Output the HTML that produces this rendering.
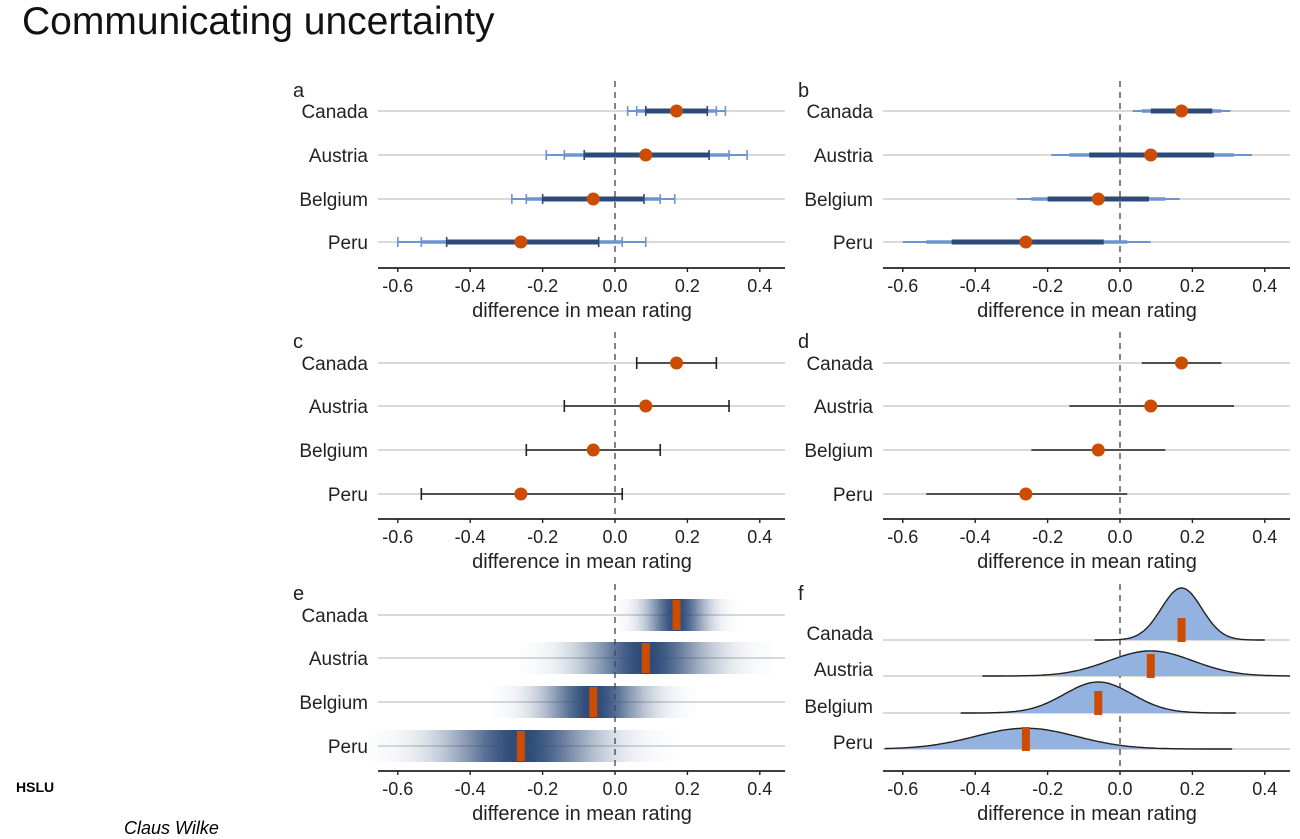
<!DOCTYPE html>
<html><head><meta charset="utf-8"><style>
body{margin:0;background:#fff;width:1300px;height:833px;overflow:hidden;font-family:"Liberation Sans",sans-serif}
#title{position:absolute;left:22px;top:0px;font-size:39px;color:#111}
#hslu{position:absolute;left:16px;top:779px;font-size:14px;font-weight:bold}
#author{position:absolute;left:124px;top:818px;font-size:18px;font-style:italic}
svg{position:absolute;left:0;top:0}
svg text{font-family:"Liberation Sans",sans-serif;fill:#222}
</style></head><body>
<div id="title">Communicating uncertainty</div>
<div id="hslu">HSLU</div>
<div id="author">Claus Wilke</div>
<svg id="chart" width="1300" height="833"></svg>
<script>
const countries=["Canada","Austria","Belgium","Peru"];
const means=[0.17,0.085,-0.06,-0.26];
const ci80lo=[0.085,-0.085,-0.2,-0.465];
const ci80hi=[0.255,0.26,0.08,-0.045];
const ci95lo=[0.06,-0.14,-0.245,-0.535];
const ci95hi=[0.28,0.315,0.125,0.02];
const ci99lo=[0.035,-0.19,-0.285,-0.6];
const ci99hi=[0.305,0.365,0.165,0.085];
const sds=[0.056,0.116,0.094,0.14];
const densLo=[-0.07,-0.38,-0.44,-0.65];
const densHi=[0.40,0.47,0.32,0.31];
const ticks=[-0.6,-0.4,-0.2,0.0,0.2,0.4];
const tickLabels=["-0.6","-0.4","-0.2","0.0","0.2","0.4"];
const NS="http://www.w3.org/2000/svg";
const svg=document.getElementById('chart');
const defs=document.createElementNS(NS,'defs');svg.appendChild(defs);
function el(t,a,p){const e=document.createElementNS(NS,t);for(const k in a)e.setAttribute(k,a[k]);(p||svg).appendChild(e);return e;}
const NAVY="#2c4a78",LIGHT="#6a95d0",ORANGE="#cc4c02",GRID="#d9d9d9";
function panel(letter,ox,axisY,rows,kind){
  const g=el('g',{});
  
  
  const x=v=>ox+237+v*362;
  const x0=ox,x1=ox+407;
  const lt=el('text',{x:ox-85,y:axisY-171,'font-size':20},g);lt.textContent=letter;
  
  rows.forEach((ry,i)=>{
    const gl=el('line',{x1:x0,x2:x1,y1:ry,y2:ry,stroke:GRID,'stroke-width':2},g);
    
    const t=el('text',{x:ox-10,y:kind==='f'?ry-0:ry+7,'text-anchor':'end','font-size':19},g);t.textContent=countries[i];
    
  });
  const zl=el('line',{x1:x(0),x2:x(0),y1:axisY-187,y2:axisY,stroke:'#666','stroke-width':1.6,'stroke-dasharray':'6,5'},g);
  
  rows.forEach((ry,i)=>{
    const c=countries[i].toLowerCase();
    if(kind==='a'||kind==='b'){
      const lay=[[ci99lo,ci99hi,LIGHT,2],[ci95lo,ci95hi,LIGHT,3.5],[ci80lo,ci80hi,NAVY,5]];
      lay.forEach(([lo,hi,col,w],j)=>{
        const l=el('line',{x1:x(lo[i]),x2:x(hi[i]),y1:ry,y2:ry,stroke:col,'stroke-width':w},g);
        
        if(kind==='a'){[lo[i],hi[i]].forEach(v=>{const cp=el('line',{x1:x(v),x2:x(v),y1:ry-5,y2:ry+5,stroke:col,'stroke-width':1.6},g);
          });}
      });
    }
    if(kind==='c'||kind==='d'){
      const l=el('line',{x1:x(ci95lo[i]),x2:x(ci95hi[i]),y1:ry,y2:ry,stroke:'#222','stroke-width':1.6},g);
      
      if(kind==='c'){[ci95lo[i],ci95hi[i]].forEach(v=>{const cp=el('line',{x1:x(v),x2:x(v),y1:ry-6,y2:ry+6,stroke:'#222','stroke-width':1.6},g);
        });}
    }
    if(kind==='e'){
      const id='grad'+i;const lg=el('linearGradient',{id:id,x1:0,x2:1,y1:0,y2:0},defs);
      for(let k=0;k<=40;k++){const z=-3+6*k/40;const a=Math.exp(-z*z/2);
        el('stop',{offset:(k/40),'stop-color':NAVY,'stop-opacity':a.toFixed(3)},lg);}
      const r=el('rect',{x:x(means[i]-3*sds[i]),y:ry-16,width:x(means[i]+3*sds[i])-x(means[i]-3*sds[i]),height:32,fill:'url(#'+id+')'},g);
      
      const m=el('rect',{x:x(means[i])-4,y:ry-15,width:8,height:30,fill:ORANGE},g);
      
    } else if(kind==='f'){
      const sc=52*0.056;let d='';const N=120;
      for(let k=0;k<=N;k++){const v=densLo[i]+(densHi[i]-densLo[i])*k/N;const z=(v-means[i])/sds[i];
        const h=sc/sds[i]*Math.exp(-z*z/2);d+=(k?'L':'M')+x(v).toFixed(1)+','+(ry-h).toFixed(1);}
      const area=el('path',{d:d+'L'+x(densHi[i])+','+ry+'L'+x(densLo[i])+','+ry+'Z',fill:'#93b2df',stroke:'none'},g);
      
      const ln=el('path',{d:d,fill:'none',stroke:'#222','stroke-width':1.4},g);
      
      const m=el('rect',{x:x(means[i])-4,y:ry-22,width:8,height:24,fill:ORANGE},g);
      
    } else {
      const p=el('circle',{cx:x(means[i]),cy:ry,r:6.5,fill:ORANGE},g);
      
    }
  });
  const ax=el('line',{x1:x0,x2:x1,y1:axisY,y2:axisY,stroke:'#222','stroke-width':1.8},g);
  
  ticks.forEach((v,k)=>{
    el('line',{x1:x(v),x2:x(v),y1:axisY,y2:axisY+4,stroke:'#222','stroke-width':1.4},g);
    const t=el('text',{x:x(v),y:axisY+24,'text-anchor':'middle','font-size':18},g);t.textContent=tickLabels[k];
    
  });
  const at=el('text',{x:ox+204,y:axisY+49,'text-anchor':'middle','font-size':20},g);at.textContent='difference in mean rating';
  
}
panel('a',378,268,[111,155,199,242],'a');
panel('b',883,268,[111,155,199,242],'b');
panel('c',378,519,[363,406,450,494],'c');
panel('d',883,519,[363,406,450,494],'d');
panel('e',378,771,[615,658,702,746],'e');
panel('f',883,771,[640,676,713,749],'f');
</script>
</body></html>
